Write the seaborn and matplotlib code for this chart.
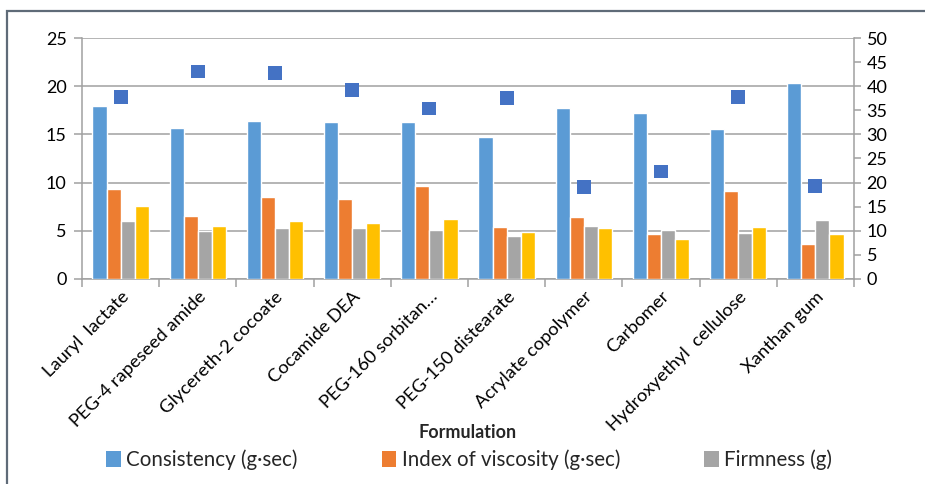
import numpy as np
import pandas as pd
import matplotlib
matplotlib.use("Agg")
import matplotlib.pyplot as plt
from matplotlib.patches import Rectangle
from matplotlib.ticker import FixedLocator, MultipleLocator
import seaborn as sns

# ---- data -------------------------------------------------------------
formulations = [
    "Lauryl  lactate", "PEG-4 rapeseed amide", "Glycereth-2 cocoate",
    "Cocamide DEA", "PEG-160 sorbitan…", "PEG-150 distearate",
    "Acrylate copolymer", "Carbomer", "Hydroxyethyl  cellulose", "Xanthan gum",
]
consistency = [18.0, 15.7, 16.4, 16.3, 16.3, 14.7, 17.75, 17.2, 15.6, 20.4]
viscosity_index = [9.36, 6.55, 8.53, 8.29, 9.64, 5.34, 6.41, 4.68, 9.08, 3.6]
firmness = [6.03, 4.96, 5.24, 5.24, 5.10, 4.44, 5.48, 5.10, 4.72, 6.14]
cohesiveness = [7.59, 5.48, 6.03, 5.76, 6.17, 4.89, 5.24, 4.16, 5.34, 4.68]
secondary = [37.85, 43.1, 42.85, 39.2, 35.4, 37.6, 19.1, 22.3, 37.8, 19.35]

series_names = ["Consistency (g·sec)", "Index of viscosity (g·sec)",
                "Firmness (g)", "Cohesiveness (g)"]
series_colors = ["#5B9BD5", "#ED7D31", "#A5A5A5", "#FFC000"]
marker_color = "#4472C4"

# ---- long-form table for seaborn --------------------------------------
frames = []
for name, vals in zip(series_names,
                      [consistency, viscosity_index, firmness, cohesiveness]):
    frames.append(pd.DataFrame({"Formulation": formulations,
                                "Series": name, "Value": vals}))
bars = pd.concat(frames, ignore_index=True)
points = pd.DataFrame({"Formulation": formulations, "Value": secondary})

sns.set_theme(style="white")
plt.rcParams["font.family"] = ["Lato", "DejaVu Sans"]

fig = plt.figure(figsize=(9.25, 4.84), dpi=100)
ax = fig.add_axes([82 / 925, 1 - 278.7 / 484, (854 - 82) / 925, (278.7 - 38.3) / 484])

sns.barplot(data=bars, x="Formulation", y="Value", hue="Series",
            order=formulations, hue_order=series_names,
            palette=series_colors, width=0.73, gap=0, saturation=1,
            errorbar=None, legend=False, ax=ax, zorder=3)

grid_c = "#A0A0A0"
ax.set_xlim(-0.5, len(formulations) - 0.5)
ax.set_ylim(0, 25)
ax.yaxis.set_major_locator(MultipleLocator(5))
ax.grid(axis="y", color=grid_c, lw=1.1, zorder=0)
ax.set_axisbelow(True)
for s in ["top", "right"]:
    ax.spines[s].set_visible(False)
for s in ["left", "bottom"]:
    ax.spines[s].set_color(grid_c)
    ax.spines[s].set_linewidth(1.1)
ax.tick_params(axis="y", length=6, color=grid_c, width=1.1, labelsize=13,
               labelcolor="#000000", pad=5, left=True)
ax.set_xticks(range(len(formulations)))
ax.set_xticklabels(formulations, rotation=45, ha="right",
                   rotation_mode="anchor", fontsize=13.2)
ax.tick_params(axis="x", which="major", length=0, pad=7, labelcolor="#000000")
ax.xaxis.set_minor_locator(FixedLocator(np.arange(-0.5, len(formulations), 1.0)))
ax.tick_params(axis="x", which="minor", length=6, color=grid_c, width=1.1,
               bottom=True)
ax.set_xlabel("")
ax.set_ylabel("")

# secondary axis with square markers
ax2 = ax.twinx()
sns.scatterplot(data=points, x="Formulation", y="Value", marker="s",
                s=100, color=marker_color, edgecolor="none", ax=ax2,
                zorder=4, legend=False)
ax2.set_ylim(0, 50)
ax2.set_xlim(-0.5, len(formulations) - 0.5)
ax2.yaxis.set_major_locator(MultipleLocator(5))
ax2.set_ylabel("")
for s in ["top", "left", "bottom"]:
    ax2.spines[s].set_visible(False)
ax2.spines["right"].set_color(grid_c)
ax2.spines["right"].set_linewidth(1.1)
ax2.tick_params(axis="y", length=5, color=grid_c, width=1.1, labelsize=13,
                labelcolor="#000000", pad=4, right=True)
ax2.grid(False)

# axis title
fig.text(468 / 925, 1 - 433 / 484, "Formulation", ha="center", va="center",
         fontsize=13, fontweight="bold")

# legend (bar series only)
handles = [Rectangle((0, 0), 1, 1, facecolor=c, edgecolor="none")
           for c in series_colors[:3]]
fig.legend(handles, series_names[:3], loc="center left",
           bbox_to_anchor=(106 / 925, 1 - 460 / 484), ncol=3, frameon=False,
           fontsize=14.8, handlelength=0.72, handleheight=0.78,
           handletextpad=0.25, columnspacing=4.1, borderpad=0, borderaxespad=0)

# outer chart frame
fig.patches.append(Rectangle((7 / 925, -0.2), 1.5, 1.2 - 11 / 484,
                             transform=fig.transFigure, fill=False,
                             edgecolor="#5F6B78", lw=1.6, clip_on=False))

fig.savefig("out.png", dpi=100)
